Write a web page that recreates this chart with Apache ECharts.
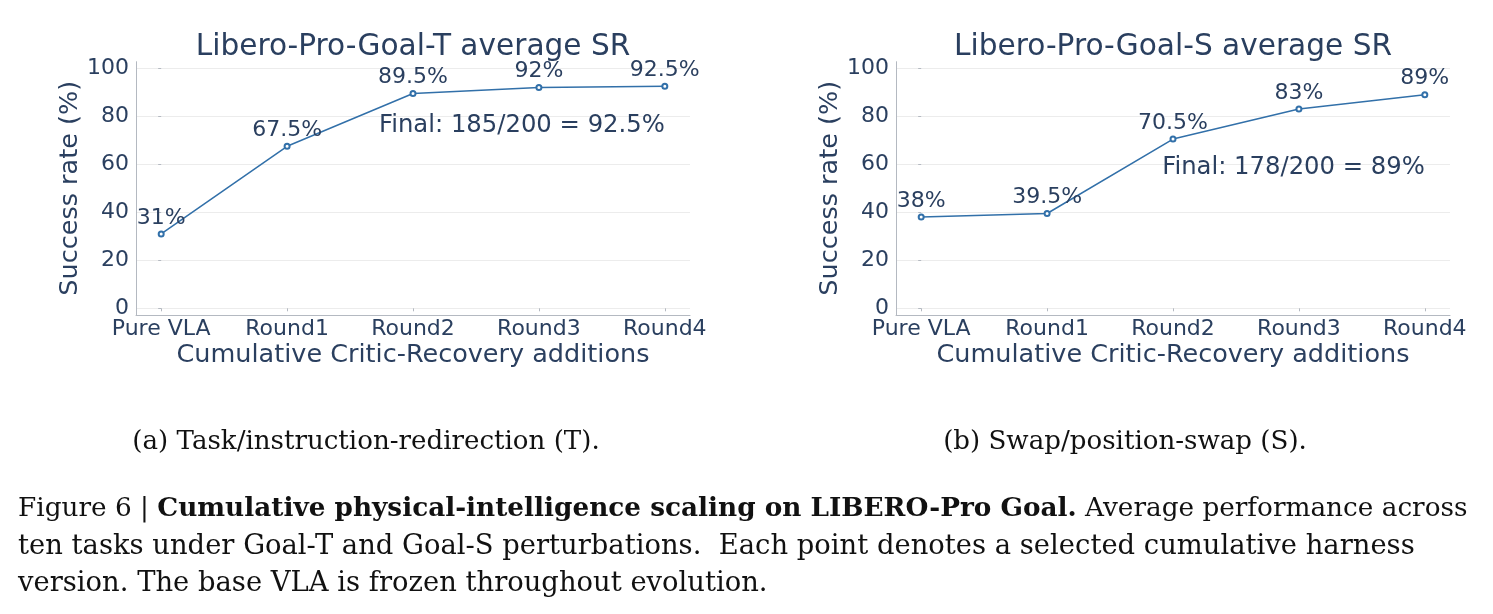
<!DOCTYPE html>
<html>
<head>
<meta charset="utf-8">
<script src="https://cdn.jsdelivr.net/npm/echarts@6/dist/echarts.min.js"></script>
<style>
  html, body { margin: 0; padding: 0; background: #fff; }
  #main { width: 1493px; height: 614px; }
</style>
</head>
<body>
<div id="main"></div>
<script>
var categories = ['Pure VLA', 'Round1', 'Round2', 'Round3', 'Round4'];
var goalT = [31, 67.5, 89.5, 92, 92.5];
var goalS = [38, 39.5, 70.5, 83, 89];
var titles = ['Libero-Pro-Goal-T average SR', 'Libero-Pro-Goal-S average SR'];
var finals = ['Final: 185/200 = 92.5%', 'Final: 178/200 = 89%'];
var finalY = [76, 58.8];
var subCaptions = ['(a) Task/instruction-redirection (T).', '(b) Swap/position-swap (S).'];

var chartDom = document.getElementById('main');
var myChart = echarts.init(chartDom, null, { renderer: 'canvas' });

var textColor = '#2a3f5f';
var axisColor = '#b4b9c1';
var lineColor = '#3270a9';
var sans = 'DejaVu Sans';
var serif = 'DejaVu Serif';

var panels = [
  { left: 136, values: goalT },
  { left: 896, values: goalS }
];
var plotWidth = 554;

var grid = [], xAxis = [], yAxis = [], series = [], title = [];

panels.forEach(function (p, i) {
  var right = 1493 - p.left - plotWidth;
  // plot area (0..100) and the slightly bigger frame around it
  grid.push({ left: p.left, right: right, top: 68.3, bottom: 614 - 308.3, outerBoundsMode: 'none' });
  grid.push({ left: p.left, right: right, top: 61.7, bottom: 614 - 315, outerBoundsMode: 'none' });

  xAxis.push({
    gridIndex: 2 * i,
    type: 'value',
    min: -0.2,
    max: 4.2,
    offset: 6.7,
    axisLine: { show: false },
    splitLine: { show: false },
    axisTick: { show: true, length: 3, customValues: [0, 1, 2, 3, 4], lineStyle: { color: axisColor } },
    axisLabel: {
      customValues: [0, 1, 2, 3, 4],
      formatter: function (v) { return categories[v]; },
      fontFamily: sans, fontSize: 22, color: textColor, margin: 3
    },
    name: 'Cumulative Critic-Recovery additions',
    nameLocation: 'middle',
    nameGap: 27,
    nameMoveOverlap: false,
    nameTextStyle: { fontFamily: sans, fontSize: 25.5, color: textColor }
  });
  xAxis.push({
    gridIndex: 2 * i + 1, type: 'value', min: 0, max: 1,
    axisLine: { show: true, lineStyle: { color: axisColor, width: 1 } },
    axisTick: { show: false }, axisLabel: { show: false }, splitLine: { show: false }
  });

  yAxis.push({
    gridIndex: 2 * i,
    type: 'value',
    min: 0,
    max: 100,
    interval: 20,
    axisLine: { show: false },
    axisTick: { show: true, length: 3, lineStyle: { color: axisColor } },
    axisLabel: { fontFamily: sans, fontSize: 22, color: textColor, margin: 7 },
    splitLine: { show: true, lineStyle: { color: '#ececec', width: 1 } },
    name: 'Success rate (%)',
    nameLocation: 'middle',
    nameGap: 53,
    nameRotate: 90,
    nameMoveOverlap: false,
    nameTextStyle: { fontFamily: sans, fontSize: 25.5, color: textColor }
  });
  yAxis.push({
    gridIndex: 2 * i + 1, type: 'value', min: 0, max: 1,
    axisLine: { show: true, lineStyle: { color: axisColor, width: 1 } },
    axisTick: { show: false }, axisLabel: { show: false }, splitLine: { show: false }
  });

  series.push({
    type: 'line',
    xAxisIndex: 2 * i,
    yAxisIndex: 2 * i,
    data: p.values.map(function (v, k) { return [k, v]; }),
    symbol: 'emptyCircle',
    symbolSize: 5,
    lineStyle: { color: lineColor, width: 1.5 },
    itemStyle: { color: lineColor, borderWidth: 1.2 },
    label: {
      show: true,
      position: 'top',
      distance: 1.5,
      formatter: function (d) { return d.value[1] + '%'; },
      fontFamily: sans, fontSize: 22, color: textColor
    },
    markPoint: {
      symbol: 'circle',
      symbolSize: 0,
      itemStyle: { color: 'rgba(0,0,0,0)' },
      label: {
        show: true, position: 'left', distance: 0,
        fontFamily: sans, fontSize: 24.3, color: textColor,
        formatter: finals[i]
      },
      data: [{ coord: [4, finalY[i]] }]
    }
  });

  title.push({
    text: titles[i],
    left: p.left + plotWidth / 2,
    top: 47,
    textAlign: 'center',
    textVerticalAlign: 'middle',
    padding: 0,
    textStyle: { fontFamily: sans, fontSize: 29.6, fontWeight: 'normal', color: textColor }
  });
});

var option = {
  animation: false,
  backgroundColor: '#ffffff',
  title: title,
  grid: grid,
  xAxis: xAxis,
  yAxis: yAxis,
  series: series,
  graphic: [
    { type: 'text', x: 366, y: 442, style: { text: subCaptions[0], align: 'center', verticalAlign: 'middle', fontFamily: serif, fontSize: 26.1, fill: '#111' } },
    { type: 'text', x: 1125, y: 442, style: { text: subCaptions[1], align: 'center', verticalAlign: 'middle', fontFamily: serif, fontSize: 26.1, fill: '#111' } },
    {
      type: 'text', x: 18, y: 509.5,
      style: {
        text: '{n|Figure 6 | }{b|Cumulative physical-intelligence scaling on LIBERO-Pro Goal.}{n| Average performance across}',
        verticalAlign: 'middle', fontFamily: serif, fontSize: 26.3, fill: '#111',
        rich: {
          n: { fontFamily: serif, fontSize: 26.3, color: '#111' },
          b: { fontFamily: serif, fontSize: 26.3, fontWeight: 'bold', color: '#111' }
        }
      }
    },
    { type: 'text', x: 18, y: 546.5, style: { text: 'ten tasks under Goal-T and Goal-S perturbations.  Each point denotes a selected cumulative harness', verticalAlign: 'middle', fontFamily: serif, fontSize: 27.4, fill: '#111' } },
    { type: 'text', x: 18, y: 583.5, style: { text: 'version. The base VLA is frozen throughout evolution.', verticalAlign: 'middle', fontFamily: serif, fontSize: 27.4, fill: '#111' } }
  ]
};

option && myChart.setOption(option);
</script>
</body>
</html>
